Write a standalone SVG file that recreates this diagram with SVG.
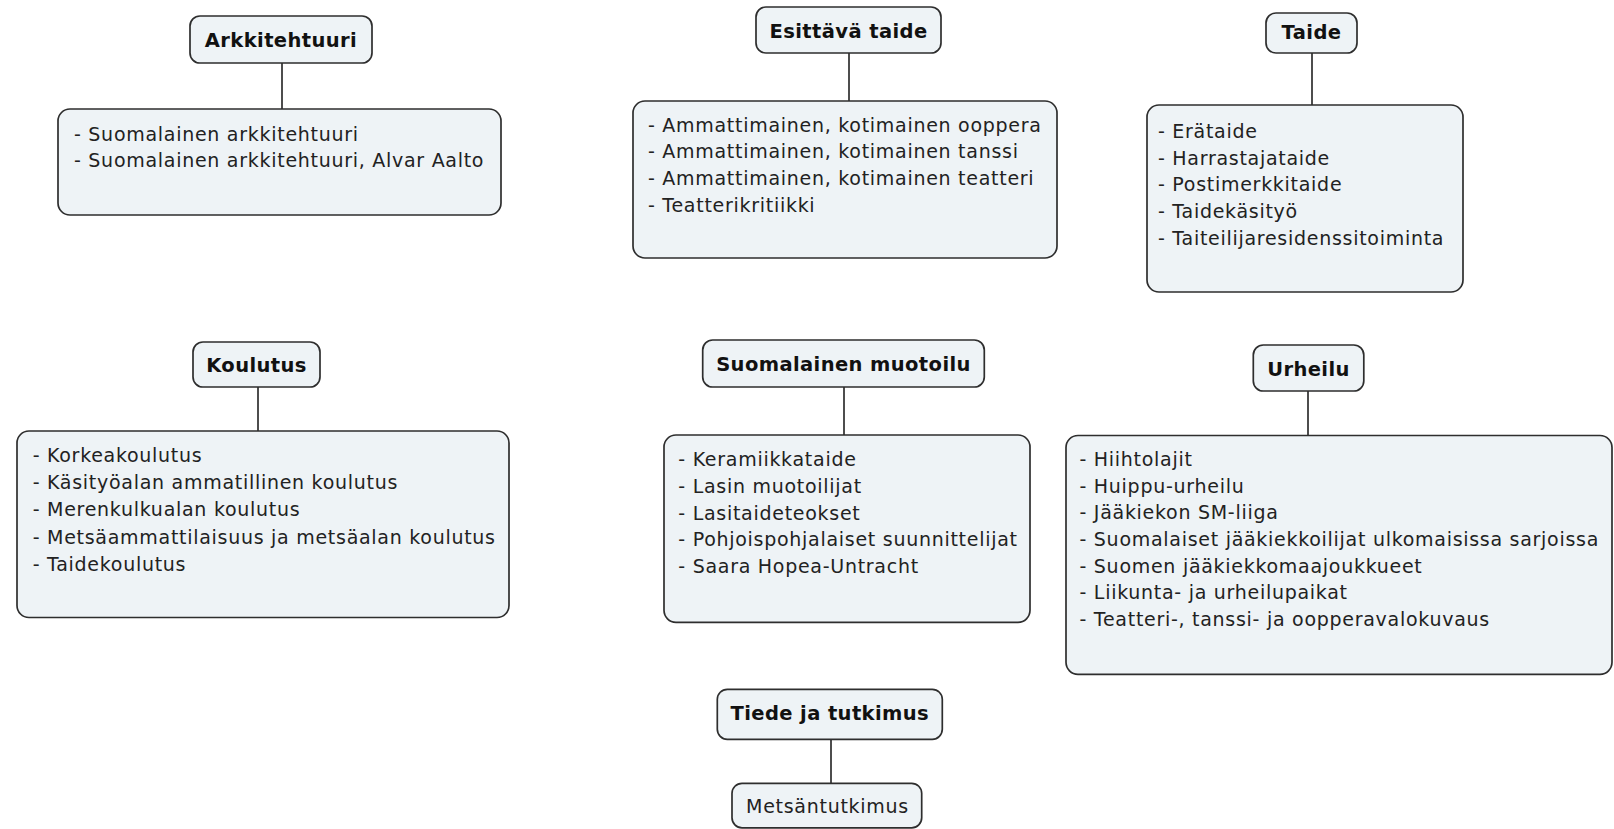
<svg xmlns="http://www.w3.org/2000/svg" width="1614" height="829" viewBox="0 0 1614 829">
<style>
.box{fill:#eef3f6;stroke:#2e2e2e;stroke-width:1.7}
.t{font-family:"DejaVu Sans","Liberation Sans",sans-serif;font-size:19.5px;font-weight:bold;fill:#111;text-anchor:middle;letter-spacing:0.4px}
.c{font-family:"DejaVu Sans","Liberation Sans",sans-serif;font-size:19px;fill:#222;letter-spacing:0.72px}
.m{text-anchor:middle}
#connectors line{stroke:#2e2e2e;stroke-width:1.7}
</style>
<rect width="1614" height="829" fill="#fff"/>
<g id="connectors">
<line x1="282" y1="63" x2="282" y2="109"/>
<line x1="849" y1="53" x2="849" y2="101"/>
<line x1="1312" y1="53" x2="1312" y2="105"/>
<line x1="258" y1="387" x2="258" y2="431"/>
<line x1="844" y1="387" x2="844" y2="435"/>
<line x1="1308" y1="391" x2="1308" y2="436"/>
<line x1="831" y1="739" x2="831" y2="783"/>
</g>
<g id="arkkitehtuuri">
<rect class="box" x="190" y="16" width="182" height="47" rx="10"/>
<text class="t" x="281" y="47">Arkkitehtuuri</text>
</g>
<g id="arkkitehtuuri-items">
<rect class="box" x="58" y="109" width="443" height="106" rx="12"/>
<text class="c" x="74" y="140.5">- Suomalainen arkkitehtuuri</text>
<text class="c" x="74" y="167.2">- Suomalainen arkkitehtuuri, Alvar Aalto</text>
</g>
<g id="esittava-taide">
<rect class="box" x="756" y="7" width="185" height="46" rx="10"/>
<text class="t" x="848.5" y="38">Esittävä taide</text>
</g>
<g id="esittava-taide-items">
<rect class="box" x="633" y="101" width="424" height="157" rx="12"/>
<text class="c" x="648" y="131.7">- Ammattimainen, kotimainen ooppera</text>
<text class="c" x="648" y="158.3">- Ammattimainen, kotimainen tanssi</text>
<text class="c" x="648" y="185">- Ammattimainen, kotimainen teatteri</text>
<text class="c" x="648" y="211.7">- Teatterikritiikki</text>
</g>
<g id="taide">
<rect class="box" x="1266" y="13" width="91" height="40" rx="10"/>
<text class="t" x="1311.5" y="38.5">Taide</text>
</g>
<g id="taide-items">
<rect class="box" x="1147" y="105" width="316" height="187" rx="12"/>
<text class="c" x="1158" y="138">- Erätaide</text>
<text class="c" x="1158" y="164.7">- Harrastajataide</text>
<text class="c" x="1158" y="191.3">- Postimerkkitaide</text>
<text class="c" x="1158" y="218">- Taidekäsityö</text>
<text class="c" x="1158" y="244.7">- Taiteilijaresidenssitoiminta</text>
</g>
<g id="koulutus">
<rect class="box" x="193" y="342" width="127" height="45" rx="10"/>
<text class="t" x="256.5" y="372">Koulutus</text>
</g>
<g id="koulutus-items">
<rect class="box" x="17" y="431" width="492" height="186.5" rx="12"/>
<text class="c" x="32.7" y="462">- Korkeakoulutus</text>
<text class="c" x="32.7" y="489.2">- Käsityöalan ammatillinen koulutus</text>
<text class="c" x="32.7" y="516.4">- Merenkulkualan koulutus</text>
<text class="c" x="32.7" y="543.6">- Metsäammattilaisuus ja metsäalan koulutus</text>
<text class="c" x="32.7" y="570.8">- Taidekoulutus</text>
</g>
<g id="suomalainen-muotoilu">
<rect class="box" x="702.7" y="340" width="281.6" height="47" rx="10"/>
<text class="t" x="843.5" y="371">Suomalainen muotoilu</text>
</g>
<g id="suomalainen-muotoilu-items">
<rect class="box" x="664" y="435" width="366" height="187.3" rx="12"/>
<text class="c" x="678.3" y="466.2">- Keramiikkataide</text>
<text class="c" x="678.3" y="492.8">- Lasin muotoilijat</text>
<text class="c" x="678.3" y="519.5">- Lasitaideteokset</text>
<text class="c" x="678.3" y="546.2">- Pohjoispohjalaiset suunnittelijat</text>
<text class="c" x="678.3" y="572.8">- Saara Hopea-Untracht</text>
</g>
<g id="urheilu">
<rect class="box" x="1253.3" y="345" width="110.5" height="46" rx="10"/>
<text class="t" x="1308.5" y="376">Urheilu</text>
</g>
<g id="urheilu-items">
<rect class="box" x="1066" y="435.5" width="546" height="238.8" rx="12"/>
<text class="c" x="1079.5" y="466">- Hiihtolajit</text>
<text class="c" x="1079.5" y="492.7">- Huippu-urheilu</text>
<text class="c" x="1079.5" y="519.3">- Jääkiekon SM-liiga</text>
<text class="c" x="1079.5" y="546">- Suomalaiset jääkiekkoilijat ulkomaisissa sarjoissa</text>
<text class="c" x="1079.5" y="572.7">- Suomen jääkiekkomaajoukkueet</text>
<text class="c" x="1079.5" y="599.3">- Liikunta- ja urheilupaikat</text>
<text class="c" x="1079.5" y="626">- Teatteri-, tanssi- ja oopperavalokuvaus</text>
</g>
<g id="tiede-ja-tutkimus">
<rect class="box" x="717.3" y="689.3" width="225" height="50" rx="10"/>
<text class="t" x="829.8" y="720">Tiede ja tutkimus</text>
</g>
<g id="metsantutkimus">
<rect class="box" x="732" y="783.3" width="189.7" height="44.5" rx="10"/>
<text class="c m" x="827.5" y="812.7">Metsäntutkimus</text>
</g>
</svg>
